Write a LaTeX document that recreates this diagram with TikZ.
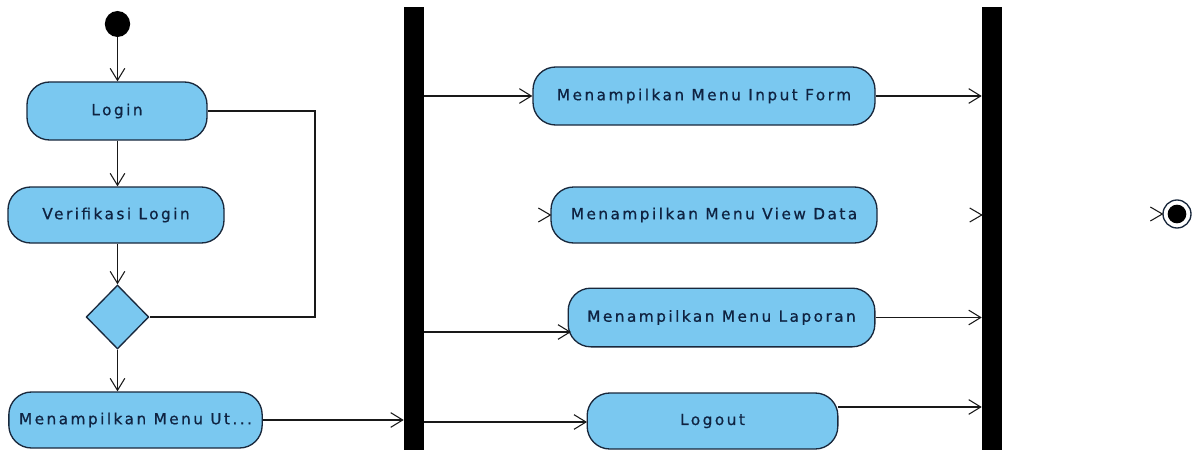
\documentclass[tikz,border=0pt]{standalone}
\usepackage{fontspec}
\setmainfont{DejaVu Sans}[LetterSpace=16,FakeBold=0.7]
\usetikzlibrary{arrows.meta,shapes.geometric,calc}
\definecolor{actfill}{RGB}{122,200,240}
\definecolor{actline}{RGB}{25,40,60}
\definecolor{acttext}{RGB}{15,35,65}
\tikzset{
  act/.style={draw=actline, fill=actfill, line width=1pt, rounded corners=17pt,
    inner sep=0pt, text=acttext, font=\fontsize{11.5}{13}\selectfont},
  barnode/.style={fill=black, draw=none, inner sep=0pt, minimum width=15pt, minimum height=332.25pt},
  flow/.style={draw=black!90, line width=0.8pt},
  arr/.style={flow, -{Straight Barb[length=9pt,width=11pt,line width=0.8pt]}},
  dec/.style={draw=actline, fill=actfill, line width=1pt, diamond, inner sep=0pt,
    minimum width=47pt, minimum height=48pt}
}
\begin{document}
\begin{tikzpicture}[x=0.75pt,y=-0.75pt]
\useasboundingbox (0,0) rectangle (1195,453);
% start
\node[ellipse, fill=black, minimum width=19pt, minimum height=19.5pt, inner sep=0pt] (start) at (117.5,24) {};
% left column
\node[act, minimum width=135pt, minimum height=43.5pt] (login) at (117,111) {Login};
\node[act, minimum width=162pt, minimum height=42pt] (verif) at (116,215) {Verifikasi Login};
\node[dec] (dia) at (117.5,317) {};
\node[act, minimum width=190pt, minimum height=42pt] (mu) at (135.5,420) {Menampilkan Menu Ut...};
% bars
\node[barnode] (bar1) at (414,228.5) {};
\node[barnode] (bar2) at (992,228.5) {};
% middle activities
\node[act, minimum width=256.5pt, minimum height=43.5pt] (inf) at (704,96) {Menampilkan Menu Input Form};
\node[act, minimum width=244.5pt, minimum height=42pt] (vd) at (714,215) {Menampilkan Menu View Data};
\node[act, minimum width=230pt, minimum height=44pt] (lap) at (721.5,317.5) {Menampilkan Menu Laporan};
\node[act, minimum width=188pt, minimum height=42pt] (lo) at (712.5,421) {Logout};
% final node
\node[circle, draw=actline, fill=white, line width=1pt, minimum size=21pt, inner sep=0pt] (fin) at (1177,214) {};
\node[circle, fill=black, minimum size=14pt, inner sep=0pt] (finin) at (fin.center) {};
% connectors left
\draw[arr] (start) -- (start |- login.north);
\draw[arr] (start |- login.south) -- (start |- verif.north);
\draw[arr] (start |- verif.south) -- (start |- dia.north);
\draw[arr] (start |- dia.south) -- (start |- mu.north);
\coordinate (loopx) at (315,0);
\draw[flow] (login.east) -| (loopx |- dia.east) -- (dia.east);
\draw[arr] (mu.east) -- (mu.east -| bar1.west);
% from bar1
\draw[arr] (bar1.east |- inf.west) -- (inf.west);
\coordinate (lapin) at (571,332);
\draw[arr] (bar1.east |- lapin) -- (lapin);
\coordinate (loin) at (587,422);
\draw[arr] (bar1.east |- loin) -- (loin);
% to bar2
\draw[arr] (inf.east) -- (inf.east -| bar2.west);
\draw[arr] (lap.east) -- (lap.east -| bar2.west);
\coordinate (loout) at (838,407);
\draw[arr] (loout) -- (loout -| bar2.west);
% dangling arrowheads
\draw[flow] ([shift={(-12,-7)}]vd.west) -- (vd.west) -- ([shift={(-12,7)}]vd.west);
\coordinate (vdbar) at (vd.east -| bar2.west);
\draw[flow] ([shift={(-12,-7)}]vdbar) -- (vdbar) -- ([shift={(-12,7)}]vdbar);
\draw[flow] ([shift={(-12,-7)}]fin.west) -- (fin.west) -- ([shift={(-12,7)}]fin.west);
\end{tikzpicture}
\end{document}
